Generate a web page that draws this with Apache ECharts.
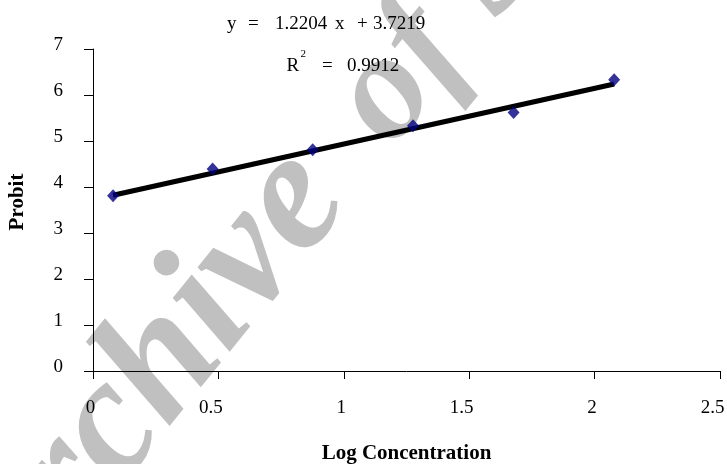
<!DOCTYPE html>
<html>
<head>
<meta charset="utf-8">
<script src="https://cdn.jsdelivr.net/npm/echarts@6/dist/echarts.min.js"></script>
<style>
html,body{margin:0;padding:0;background:#fff;}
#chart{width:727px;height:464px;}
</style>
</head>
<body>
<div id="chart"></div>
<script>
// Data
var logConc = [0.08, 0.477, 0.876, 1.276, 1.677, 2.078];
var probit  = [3.81, 4.39, 4.81, 5.33, 5.62, 6.33];
// trendline endpoints (as drawn)
var trendX = [0.08, 2.078];
var trendY = [3.82, 6.24];
var xTicks = [0, 0.5, 1, 1.5, 2, 2.5];
var yTicks = [0, 1, 2, 3, 4, 5, 6, 7];
var eqText = ['y', '=', '1.2204', 'x', '+', '3.7219'];
var r2Text = ['R', '2', '=', '0.9912'];
var xTitle = 'Log Concentration';
var yTitle = 'Probit';
var watermarkWords = ['Archive', 'of SID'];

var serif = '"Liberation Serif", "Times New Roman", serif';
var chart = echarts.init(document.getElementById('chart'), null, {renderer: 'canvas'});

function txt(s, x, y, size) {
  return {
    type: 'text', x: x, y: y, z: 10,
    style: {text: s, font: size + 'px ' + serif, fill: '#000', align: 'left', verticalAlign: 'middle'}
  };
}

var eqX = [227, 248, 275, 335, 357, 373];
var graphics = [];
for (var i = 0; i < eqText.length; i++) graphics.push(txt(eqText[i], eqX[i], 23.6, 19));
graphics.push(txt(r2Text[0], 286.5, 66, 19));
graphics.push(txt(r2Text[1], 300.5, 54.6, 11));
graphics.push(txt(r2Text[2], 322, 66, 19));
graphics.push(txt(r2Text[3], 347, 66, 19));
var wmPos = [[-27, 599, 170], [362, 125, 152]];
for (var j = 0; j < watermarkWords.length; j++) {
  graphics.push({
    type: 'text', x: wmPos[j][0], y: wmPos[j][1], rotation: 51 * Math.PI / 180, z: -10,
    style: {text: watermarkWords[j], font: 'italic bold ' + wmPos[j][2] + 'px ' + serif, fill: '#c0c0c0', align: 'left', verticalAlign: 'middle'}
  });
}

var option = {
  backgroundColor: '#ffffff',
  animation: false,
  grid: {left: 93, right: 7, top: 49, bottom: 93, containLabel: false, outerBoundsMode: 'none'},
  xAxis: {
    type: 'value', min: xTicks[0], max: xTicks[xTicks.length - 1], interval: 0.5,
    name: xTitle, nameLocation: 'middle', nameGap: 72,
    nameTextStyle: {fontFamily: serif, fontSize: 21, fontWeight: 'bold', color: '#000'},
    axisLine: {show: true, onZero: false, lineStyle: {color: '#000', width: 1}},
    axisTick: {show: true, inside: false, length: 8, lineStyle: {color: '#000'}},
    splitLine: {show: false},
    axisLabel: {
      margin: 28, fontFamily: serif, fontSize: 19, color: '#000',
      formatter: function (v) { return Number.isInteger(v) ? '{a|' + v + '}' : '{b|' + v + '}'; },
      rich: {
        a: {fontFamily: serif, fontSize: 19, color: '#000', padding: [0, 5, 0, 0]},
        b: {fontFamily: serif, fontSize: 19, color: '#000', padding: [0, 15, 0, 0]}
      }
    }
  },
  yAxis: {
    type: 'value', min: yTicks[0], max: yTicks[yTicks.length - 1], interval: 1,
    name: yTitle, nameLocation: 'middle', nameGap: 65, nameRotate: 90,
    nameTextStyle: {fontFamily: serif, fontSize: 21, fontWeight: 'bold', color: '#000', padding: [0, 0, 0, 16]},
    axisLine: {show: true, lineStyle: {color: '#000', width: 1}},
    axisTick: {show: true, inside: false, length: 9, lineStyle: {color: '#000'}},
    splitLine: {show: false},
    axisLabel: {
      margin: 30, color: '#000',
      formatter: function (v) { return '{a|' + v + '}'; },
      rich: {a: {fontFamily: serif, fontSize: 19, color: '#000', padding: [0, 0, 8, 0]}}
    }
  },
  graphic: graphics,
  series: [
    {
      type: 'line', data: trendX.map(function (x, i) { return [x, trendY[i]]; }),
      symbol: 'none', lineStyle: {color: '#000', width: 5}, z: 2, silent: true
    },
    {
      type: 'scatter', data: logConc.map(function (x, i) { return [x, probit[i]]; }),
      symbol: 'diamond', symbolSize: [12, 13], itemStyle: {color: '#000080'}, z: 3
    }
  ]
};
chart.setOption(option);
</script>
</body>
</html>
